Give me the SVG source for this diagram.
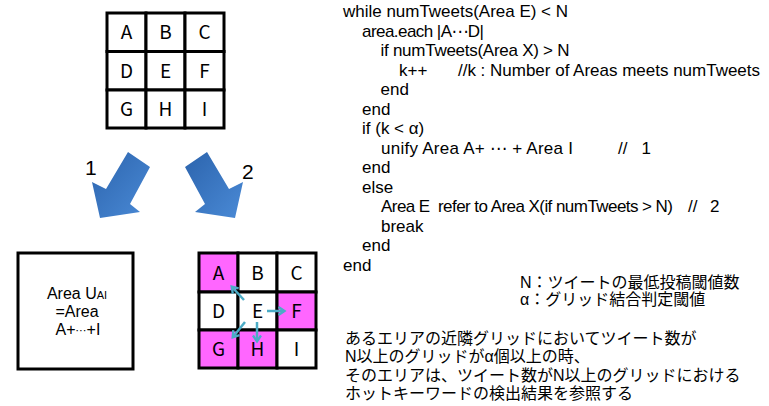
<svg xmlns="http://www.w3.org/2000/svg" width="769" height="406" viewBox="0 0 769 406">
<style>
.t{font-family:"Liberation Sans","Noto Sans CJK JP",sans-serif;fill:#000}
.g{font-family:"Noto Sans CJK JP","Noto Sans",sans-serif;fill:#000}
.code{font-size:17px}
.jp{font-size:16px}
.el{font-family:"DejaVu Sans",sans-serif}
.cell{fill:#fff;stroke:#000;stroke-width:3}
.pink{fill:#FF66FF}
.gl{font-size:19px;text-anchor:middle}
.ca{stroke:#4BACC6;stroke-width:2.5;fill:none;marker-end:url(#ah)}
</style>
<defs>
<linearGradient id="bg" x1="0" y1="0" x2="1" y2="1">
<stop offset="0" stop-color="#2C64AD"/>
<stop offset="1" stop-color="#4A8AD6"/>
</linearGradient>
<marker id="ah" viewBox="0 0 10 10" refX="7" refY="5" markerWidth="10" markerHeight="10" markerUnits="userSpaceOnUse" orient="auto">
<path d="M1.5,1 L7.5,5 L1.5,9" fill="none" stroke="#4BACC6" stroke-width="2.3"/>
</marker>
</defs>

<g id="grid-top">
<rect class="cell" x="107" y="13" width="39" height="38.5"/>
<rect class="cell" x="146" y="13" width="39" height="38.5"/>
<rect class="cell" x="185" y="13" width="39" height="38.5"/>
<rect class="cell" x="107" y="51.5" width="39" height="38.5"/>
<rect class="cell" x="146" y="51.5" width="39" height="38.5"/>
<rect class="cell" x="185" y="51.5" width="39" height="38.5"/>
<rect class="cell" x="107" y="90" width="39" height="38"/>
<rect class="cell" x="146" y="90" width="39" height="38"/>
<rect class="cell" x="185" y="90" width="39" height="38"/>
<text class="g gl" x="126.5" y="39">A</text>
<text class="g gl" x="165.5" y="39">B</text>
<text class="g gl" x="204.5" y="39">C</text>
<text class="g gl" x="126.5" y="78">D</text>
<text class="g gl" x="165.5" y="78">E</text>
<text class="g gl" x="204.5" y="78">F</text>
<text class="g gl" x="126.5" y="116">G</text>
<text class="g gl" x="165.5" y="116">H</text>
<text class="g gl" x="204.5" y="116">I</text>
</g>

<g id="arrow-1">
<polygon points="128,152 150,167 130,204 140,212 100,218 92,182 106,189" fill="url(#bg)"/>
<text class="t" x="85" y="175" font-size="21">1</text>
</g>
<g id="arrow-2">
<polygon points="207,152 185,167 205,204 195,212 235,218 243,182 229,189" fill="url(#bg)"/>
<text class="t" x="242" y="179" font-size="21">2</text>
</g>

<g id="area-unified">
<rect x="18" y="253" width="115" height="116" fill="#fff" stroke="#000" stroke-width="3"/>
<text class="t" x="77" y="299" font-size="16" text-anchor="middle">Area U<tspan font-size="11">AI</tspan></text>
<text class="t" x="77" y="317" font-size="16" text-anchor="middle">=Area</text>
<text class="t" x="78" y="335" font-size="16" text-anchor="middle">A+<tspan class="el" font-size="11" dy="-1.5">⋯</tspan><tspan dy="1.5">+I</tspan></text>
</g>

<g id="grid-bottom">
<rect class="cell pink" x="199" y="253" width="39" height="39"/>
<rect class="cell" x="238" y="253" width="39" height="39"/>
<rect class="cell" x="277" y="253" width="39" height="39"/>
<rect class="cell" x="199" y="292" width="39" height="38"/>
<rect class="cell" x="238" y="292" width="39" height="38"/>
<rect class="cell pink" x="277" y="292" width="39" height="38"/>
<rect class="cell pink" x="199" y="330" width="39" height="38"/>
<rect class="cell pink" x="238" y="330" width="39" height="38"/>
<rect class="cell" x="277" y="330" width="39" height="38"/>
<text class="g gl" x="218.5" y="280">A</text>
<text class="g gl" x="257.5" y="280">B</text>
<text class="g gl" x="296.5" y="280">C</text>
<text class="g gl" x="218.5" y="318">D</text>
<text class="g gl" x="257.5" y="318">E</text>
<text class="g gl" x="296.5" y="318">F</text>
<text class="g gl" x="218.5" y="356">G</text>
<text class="g gl" x="257.5" y="356">H</text>
<text class="g gl" x="296.5" y="356">I</text>
</g>

<g id="connectors">
<line class="ca" x1="244" y1="300" x2="232" y2="287"/>
<line class="ca" x1="267" y1="311" x2="284" y2="311"/>
<line class="ca" x1="245" y1="322" x2="233" y2="337"/>
<line class="ca" x1="257" y1="322" x2="257" y2="341"/>
</g>

<g id="code">
<text class="t code" x="343" y="17" textLength="225" lengthAdjust="spacing">while numTweets(Area E) &lt; N</text>
<text class="t code" x="362" y="36.5" textLength="122" lengthAdjust="spacing">area.each |A<tspan class="el">⋯</tspan>D|</text>
<text class="t code" x="380.5" y="56" textLength="189" lengthAdjust="spacing">if numTweets(Area X) &gt; N</text>
<text class="t code" x="399" y="75.5">k++</text>
<text class="t code" x="458" y="75.5" textLength="302" lengthAdjust="spacing">//k : Number of Areas meets numTweets</text>
<text class="t code" x="380.5" y="95">end</text>
<text class="t code" x="362" y="114.5">end</text>
<text class="t code" x="362" y="134">if (k &lt; α)</text>
<text class="t code" x="381" y="153.5" textLength="192" lengthAdjust="spacing">unify Area A+ <tspan class="el">⋯</tspan> + Area I</text>
<text class="t code" x="618" y="153.5">//</text>
<text class="t code" x="641.5" y="153.5">1</text>
<text class="t code" x="362" y="173">end</text>
<text class="t code" x="362" y="192.5">else</text>
<text class="t code" x="381" y="212" textLength="292" lengthAdjust="spacing" xml:space="preserve">Area E  refer to Area X(if numTweets &gt; N)</text>
<text class="t code" x="688" y="212">//</text>
<text class="t code" x="710" y="212">2</text>
<text class="t code" x="381" y="231.5">break</text>
<text class="t code" x="362" y="251">end</text>
<text class="t code" x="343" y="270.5">end</text>
</g>

<g id="legend">
<text class="t jp" x="520" y="288">N：ツイートの最低投稿閾値数</text>
<text class="t jp" x="520" y="305">α：グリッド結合判定閾値</text>
</g>

<g id="note">
<text class="t jp" x="345" y="344">あるエリアの近隣グリッドにおいてツイート数が</text>
<text class="t jp" x="345" y="362">N以上のグリッドがα個以上の時、</text>
<text class="t jp" x="345" y="381">そのエリアは、ツイート数がN以上のグリッドにおける</text>
<text class="t jp" x="345" y="399">ホットキーワードの検出結果を参照する</text>
</g>
</svg>
